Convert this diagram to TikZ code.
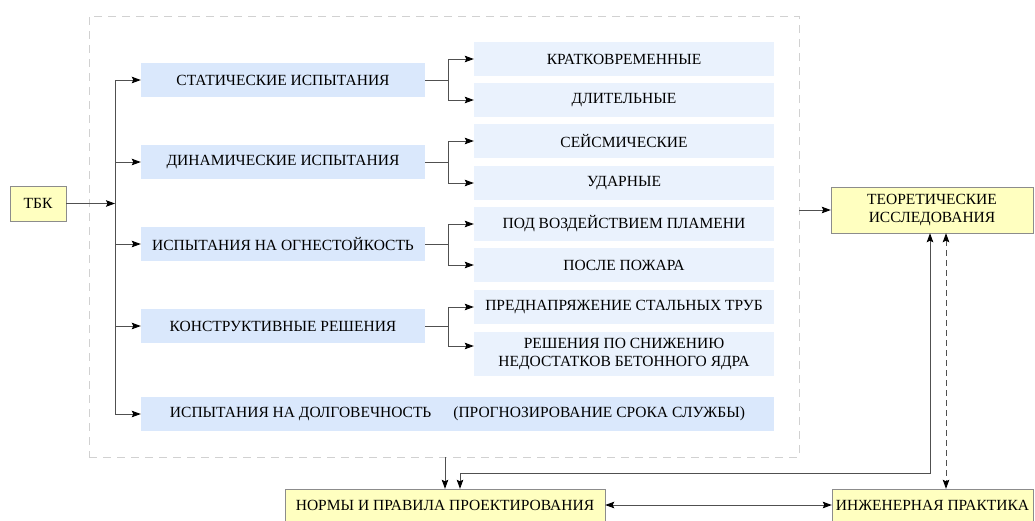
\documentclass[tikz,border=0pt]{standalone}
\usepackage{fontspec}
\setmainfont{Liberation Serif}
\usepackage{xcolor}
\usetikzlibrary{arrows.meta,positioning,calc}

\definecolor{hdrblue}{HTML}{DAE8FC}
\definecolor{subblue}{HTML}{EAF2FD}
\definecolor{noteyel}{HTML}{FFFFC0}
\definecolor{linegray}{HTML}{505050}

\begin{document}
\begin{tikzpicture}[x=1pt, y=-1pt,
      font=\fontsize{15.5}{18}\selectfont,
      blk/.style={fill=hdrblue, inner sep=0pt, minimum height=34pt, align=center},
      grp/.style={blk, minimum width=284pt},
      subbox/.style={blk, fill=subblue, minimum width=300pt},
      yel/.style={draw=black!45, fill=noteyel, inner sep=0pt, align=center},
      grpframe/.style={draw=black!18, dash pattern=on 8pt off 6pt, line width=0.9pt,
                  inner sep=0pt, minimum width=710pt, minimum height=441pt},
      wire/.style={->, draw=linegray, line width=0.9pt},
      dwire/.style={<->, draw=linegray, line width=0.9pt},
      >={Stealth[length=9pt,width=6.5pt,inset=1.5pt,color=black]}]

    \useasboundingbox (0,0) rectangle (1035,520);

    % group of tests
    \node[grpframe] (box) at (444,236.5) {};

    \node[yel, minimum width=56pt, minimum height=35pt] (tbk) at (38,203.5) {ТБК};
    \coordinate (trunk) at (115,203.5);

    \node[grp] (stat)   at (283,80)  {СТАТИЧЕСКИЕ ИСПЫТАНИЯ};
    \node[grp] (dyn)    at (283,162) {ДИНАМИЧЕСКИЕ ИСПЫТАНИЯ};
    \node[grp] (fire)   at (283,244) {ИСПЫТАНИЯ НА ОГНЕСТОЙКОСТЬ};
    \node[grp] (constr) at (283,326) {КОНСТРУКТИВНЫЕ РЕШЕНИЯ};
    \node[blk, minimum width=633pt] (dur) at (457.5,414)
      {ИСПЫТАНИЯ НА ДОЛГОВЕЧНОСТЬ\hspace{22pt}(ПРОГНОЗИРОВАНИЕ СРОКА СЛУЖБЫ)};

    \node[subbox] (kratk) at (624,59)  {КРАТКОВРЕМЕННЫЕ};
    \node[subbox] (dlit)  at (624,100) {ДЛИТЕЛЬНЫЕ};
    \node[subbox] (seism) at (624,141) {СЕЙСМИЧЕСКИЕ};
    \node[subbox] (udar)  at (624,183) {УДАРНЫЕ};
    \node[subbox] (plam)  at (624,224) {ПОД ВОЗДЕЙСТВИЕМ ПЛАМЕНИ};
    \node[subbox] (pozh)  at (624,265) {ПОСЛЕ ПОЖАРА};
    \node[subbox] (predn) at (624,307) {ПРЕДНАПРЯЖЕНИЕ СТАЛЬНЫХ ТРУБ};
    \node[subbox, minimum height=44pt] (resh) at (624,354)
      {РЕШЕНИЯ ПО СНИЖЕНИЮ\\НЕДОСТАТКОВ БЕТОННОГО ЯДРА};

    % outer boxes
    \node[yel, minimum width=202pt, minimum height=46pt] (teor) at (932,210)
      {ТЕОРЕТИЧЕСКИЕ\\ИССЛЕДОВАНИЯ};
    \node[yel, minimum width=320pt, minimum height=32pt] (norms) at (445,505)
      {НОРМЫ И ПРАВИЛА ПРОЕКТИРОВАНИЯ};
    \node[yel, minimum width=201pt, minimum height=32pt] (inzh) at (932.5,505)
      {ИНЖЕНЕРНАЯ ПРАКТИКА};
    \coordinate (bend) at (930,473);

    \draw[wire] (tbk) -- (trunk);
    \foreach \n in {stat,dyn,fire,constr,dur}
      \draw[wire] (trunk) |- (\n);

    \foreach \g/\a/\b in {stat/kratk/dlit, dyn/seism/udar, fire/plam/pozh} {
      \draw[wire] (\g.east) -- ++(23,0) |- (\a);
      \draw[wire] (\g.east) -- ++(23,0) |- (\b);
    }
    \draw[wire] (constr.east) -- ++(23,0) |- (predn);
    \draw[wire] (constr.east) -- ++(23,0) |- ([yshift=8pt]resh.west);

    \draw[wire] (box.east |- teor) -- (teor);
    \draw[wire] (box.south -| norms) -- (norms);
    \draw[dwire] ([xshift=-2pt]teor.south) -- (bend) -| ([xshift=15pt]norms.north);
    \draw[dwire, dash pattern=on 6pt off 4pt] ([xshift=14pt]teor.south) -- ([xshift=13.5pt]inzh.north);
    \draw[dwire] (norms) -- (inzh);
\end{tikzpicture}
\end{document}
